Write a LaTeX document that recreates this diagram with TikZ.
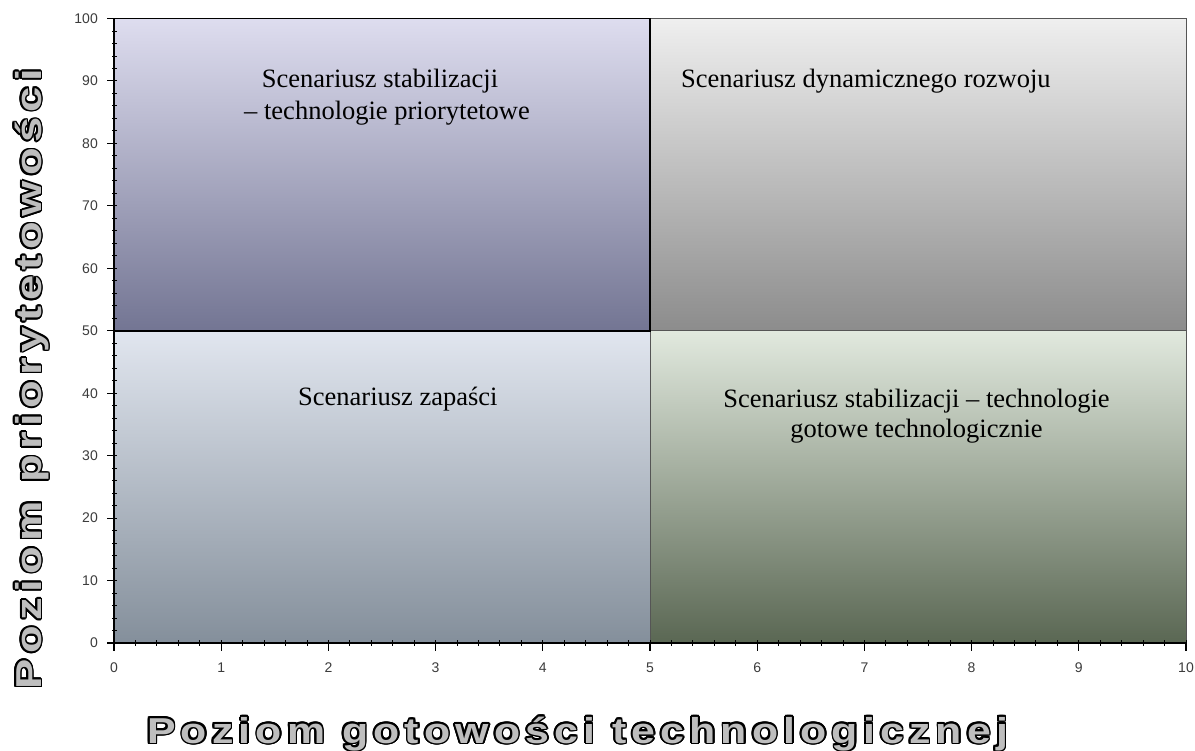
\documentclass[tikz,border=0pt]{standalone}
\usepackage{fontspec}
\usepackage{graphicx}
\setmainfont{Liberation Serif}
\newfontfamily\ticklabelfont{Liberation Sans}
\newfontfamily\titlefam[LetterSpace=12]{Liberation Sans}
\usetikzlibrary{calc}

\definecolor{tltop}{HTML}{DEDDEF}
\definecolor{tlbot}{HTML}{737593}
\definecolor{trtop}{HTML}{EFEFEF}
\definecolor{trbot}{HTML}{8C8C8C}
\definecolor{bltop}{HTML}{E1E6EF}
\definecolor{blbot}{HTML}{848F9B}
\definecolor{brtop}{HTML}{E1E9DE}
\definecolor{brbot}{HTML}{5A6753}
\definecolor{ticktext}{HTML}{3C3C3C}
\definecolor{titlegray}{HTML}{BEBEBE}
\definecolor{edgegray}{HTML}{555555}

% outlined axis title: black copies around, gray copy on top
\newcommand\outlinedtitle[4]{%
  \foreach \k in {1,...,16}{%
    \node[axistitle, text=black, rotate=#3] (#1-o\k) at ($(#2)+(\k*22.5:1.7pt)$) {#4};
  }%
  \node[axistitle, text=titlegray, rotate=#3] (#1) at (#2) {#4};
}

\begin{document}
\begin{tikzpicture}[x=1pt,y=-1pt,
  declare function={gx(\v)=114+107.2*\v; gy(\v)=643-6.245*\v;},
  quadtext/.style={anchor=base, inner sep=0pt, font=\fontsize{26.5}{32}\selectfont},
  ylab/.style={anchor=east, inner sep=0pt, text=ticktext, font=\ticklabelfont\fontsize{14}{16}\selectfont},
  xlab/.style={anchor=center, inner sep=0pt, text=ticktext, font=\ticklabelfont\fontsize{14}{16}\selectfont},
  axistitle/.style={anchor=base, inner sep=0pt},
  minortick/.style={line width=0.9pt, black},
  majortick/.style={line width=1.1pt, black},
  axisline/.style={line width=1.6pt, black}]

\useasboundingbox[fill=white] (0,0) rectangle (1195,751);

% corners of the four fields
\coordinate (O)  at ({gx(0)},{gy(0)});
\coordinate (M)  at ({gx(5)},{gy(50)});
\coordinate (T)  at ({gx(10)},{gy(100)});
\coordinate (TL) at ({gx(0)},{gy(100)});
\coordinate (BR) at ({gx(10)},{gy(0)});
\coordinate (ML) at ({gx(0)},{gy(50)});
\coordinate (MR) at ({gx(10)},{gy(50)});
\coordinate (MT) at ({gx(5)},{gy(100)});
\coordinate (MB) at ({gx(5)},{gy(0)});

% shaded fields
\shade[top color=bltop, bottom color=blbot] (O) rectangle (M);
\shade[top color=brtop, bottom color=brbot] (MB) rectangle (MR);
\shade[top color=trtop, bottom color=trbot] (M) rectangle (T);
\shade[top color=tltop, bottom color=tlbot] (ML) rectangle (MT);

% field edges
\draw[edgegray, line width=1pt] (M) rectangle (T);
\draw[edgegray, line width=1pt] (MB) -- (M) (MR) -- (BR);
\draw[black, line width=1.6pt] (ML) rectangle (MT);

% axes
\draw[axisline] (TL) -- (O) -- (BR);

% y ticks
\foreach \v in {0,2,...,100}{
  \draw[minortick] ({gx(0)-2},{gy(\v)}) -- ({gx(0)+3},{gy(\v)});
}
\foreach \v in {0,10,...,100}{
  \draw[majortick] ({gx(0)-7},{gy(\v)}) -- ({gx(0)},{gy(\v)});
  \node[ylab] (ylab\v) at ({gx(0)-16},{gy(\v)}) {\v};
}
% x ticks
\foreach \i in {0,...,50}{
  \draw[minortick] ({gx(\i/5)},{gy(0)-3}) -- ({gx(\i/5)},{gy(0)+3});
}
\foreach \v in {0,...,10}{
  \draw[majortick] ({gx(\v)},{gy(0)}) -- ({gx(\v)},{gy(0)+8});
  \node[xlab] (xlab\v) at ({gx(\v)},668) {\v};
}

% field captions
\node[quadtext] (tlA) at (380,88) {Scenariusz stabilizacji};
\node[quadtext] (tlB) at (387,120) {– technologie priorytetowe};
\node[quadtext, anchor=base west] (trA) at (681,88) {Scenariusz dynamicznego rozwoju};
\node[quadtext, anchor=base west] (blA) at (298,406) {Scenariusz zapaści};
\node[quadtext] (brA) at (916.5,407) {Scenariusz stabilizacji – technologie};
\node[quadtext] (brB) at (916.5,438) {gotowe technologicznie};

% axis titles
\coordinate (xtitlepos) at (577.5,743);
\coordinate (ytitlepos) at (41,379);
\outlinedtitle{xtitle}{xtitlepos}{0}{\scalebox{1.19}[1]{\titlefam\bfseries\fontsize{36}{40}\selectfont Poziom gotowości technologicznej}}
\outlinedtitle{ytitle}{ytitlepos}{90}{\scalebox{1.26}[1]{\titlefam\bfseries\fontsize{36}{40}\selectfont Poziom priorytetowości}}

\end{tikzpicture}
\end{document}
